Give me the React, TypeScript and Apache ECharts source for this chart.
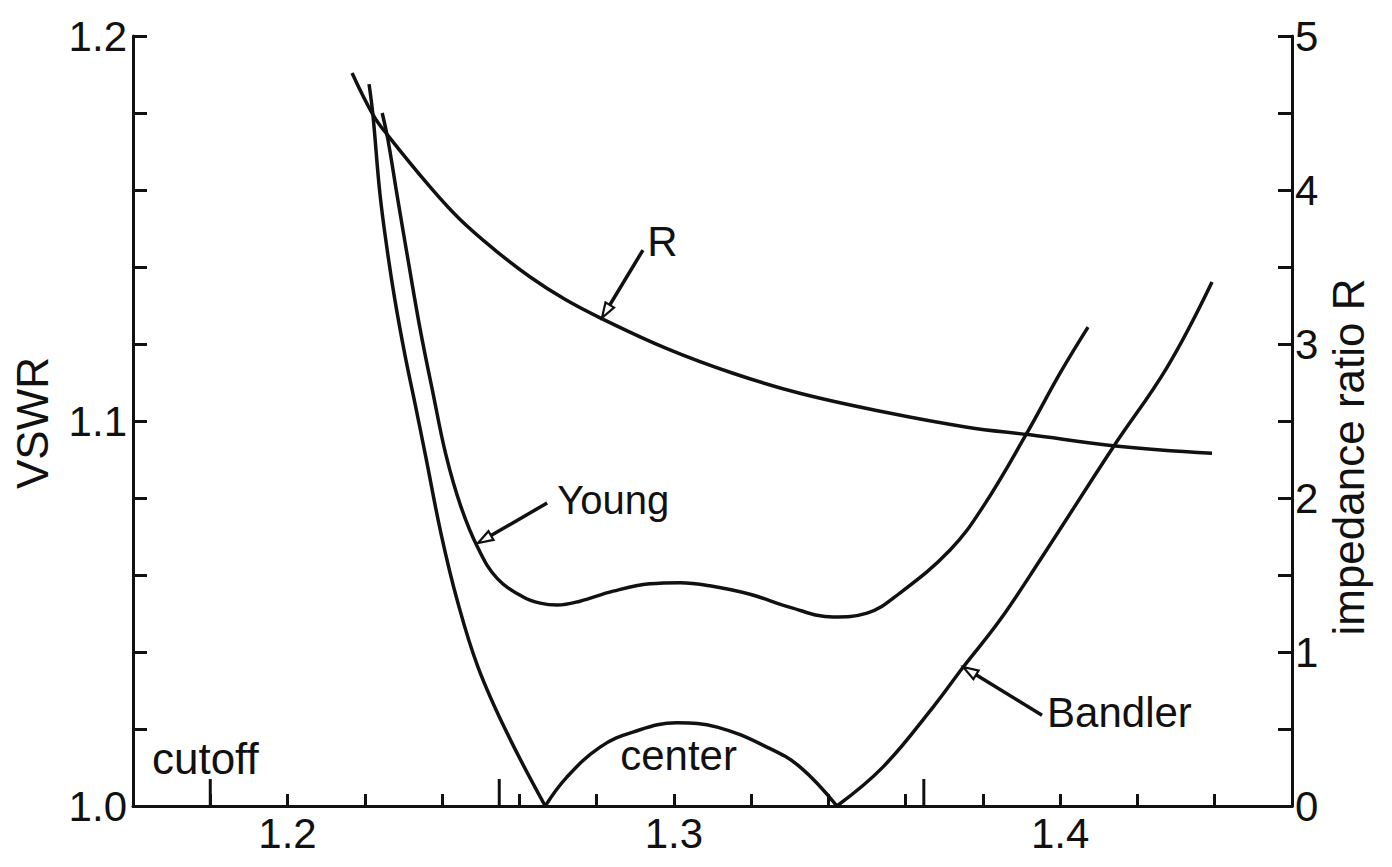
import React, { useEffect, useRef } from "react";
import * as echarts from "echarts";

// ---- tick labels ----
const xTickLabels = ["1.2", "1.3", "1.4"];
const vswrTickLabels = ["1.0", "1.1", "1.2"];
const ratioTickLabels = ["0", "1", "2", "3", "4", "5"];

// ---- impedance ratio R (right axis) ----
const rFreq = [1.2167, 1.2221, 1.2258, 1.2369, 1.2446, 1.2537, 1.2628, 1.2718, 1.2809, 1.2982, 1.3153, 1.3326, 1.3541, 1.3759, 1.3922, 1.4137, 1.4393];
const rRatio = [4.76, 4.49, 4.36, 4.02, 3.81, 3.61, 3.435, 3.29, 3.17, 2.97, 2.81, 2.68, 2.56, 2.46, 2.41, 2.34, 2.29];

// ---- Young VSWR ----
const youngFreq = [1.2245, 1.226, 1.2283, 1.2312, 1.2343, 1.2377, 1.241, 1.2449, 1.2493, 1.2542, 1.261, 1.2654, 1.2698, 1.2757, 1.2843, 1.2938, 1.3016, 1.3093, 1.3197, 1.3301, 1.3412, 1.35, 1.3585, 1.3715, 1.38, 1.3914, 1.4, 1.4072];
const youngVswr = [1.18, 1.173, 1.159, 1.1418, 1.124, 1.107, 1.0912, 1.0777, 1.067, 1.0592, 1.0543, 1.0527, 1.0522, 1.0532, 1.0558, 1.0577, 1.058, 1.0572, 1.055, 1.0516, 1.0491, 1.0501, 1.0553, 1.0665, 1.0777, 1.0969, 1.1125, 1.1244];

// ---- Bandler VSWR (three pieces meeting at the two zeros) ----
const bandlerLeftFreq = [1.2211, 1.2221, 1.2239, 1.2258, 1.2278, 1.2304, 1.2328, 1.2358, 1.2397, 1.2439, 1.2493, 1.2568, 1.2667];
const bandlerLeftVswr = [1.1875, 1.1795, 1.1592, 1.1444, 1.1314, 1.1171, 1.1055, 1.0906, 1.0709, 1.0535, 1.0361, 1.019, 1.0];
const bandlerArchFreq = [1.2667, 1.2723, 1.2809, 1.2894, 1.3008, 1.3112, 1.3241, 1.3327, 1.3422];
const bandlerArchVswr = [1.0, 1.0075, 1.0153, 1.0192, 1.0216, 1.0205, 1.0153, 1.0101, 1.0];
const bandlerRightFreq = [1.3422, 1.3541, 1.3671, 1.3749, 1.3844, 1.3948, 1.4137, 1.4277, 1.4393];
const bandlerRightVswr = [1.0, 1.0101, 1.0257, 1.0361, 1.0483, 1.0639, 1.0932, 1.114, 1.1361];

// ---- long marks on the frequency axis ----
const longTickFreq = [1.18, 1.2548, 1.3647];

// ---- annotation texts (data coordinates on the VSWR axis) ----
const noteTexts = ["R", "Young", "Bandler", "cutoff", "center"];
const noteFreq = [1.2931, 1.2698, 1.3966, 1.1649, 1.2861];
const noteVswr = [1.1465, 1.0794, 1.0243, 1.0124, 1.0131];

// ---- annotation arrows: tail -> tip ----
const arrowTailFreq = [1.292, 1.2672, 1.3953];
const arrowTailVswr = [1.1444, 1.0787, 1.0236];
const arrowTipFreq = [1.2814, 1.2493, 1.3749];
const arrowTipVswr = [1.1268, 1.0683, 1.0361];

export default function App() {
  const ref = useRef<HTMLDivElement>(null);

  useEffect(() => {
    const el = ref.current!;
    const chart = echarts.init(el, null, { renderer: "svg" });
    const font = "Liberation Sans";
    const ink = "#111111";
    const pairs = (xs: number[], ys: number[]) => xs.map((x, i) => [x, ys[i]]);
    const line = (name: string, data: number[][], yAxisIndex = 0) => ({
      type: "line",
      name,
      data,
      yAxisIndex,
      symbol: "none",
      showSymbol: false,
      smooth: 0.4,
      silent: true,
      lineStyle: { color: ink, width: 3.5 },
    });

    const axisCommon = {
      axisLine: { show: true, onZero: false, lineStyle: { color: ink, width: 3 } },
      axisTick: { show: true, inside: true, length: 14, lineStyle: { color: ink, width: 3 } },
      splitLine: { show: false },
    };

    chart.setOption({
      animation: false,
      backgroundColor: "#ffffff",
      grid: { left: 133, right: 100, top: 36, bottom: 61 },
      xAxis: {
        type: "value",
        min: 1.16,
        max: 1.46,
        interval: 0.02,
        ...axisCommon,
        axisTick: { show: true, inside: true, length: 12, lineStyle: { color: ink, width: 3 } },
        axisLabel: {
          color: ink,
          fontSize: 42,
          fontFamily: font,
          margin: 6,
          formatter: (v: number) => {
            const s = (Math.round(v * 100) / 100).toFixed(2);
            const t = s.slice(0, -1);
            return s.endsWith("0") && xTickLabels.includes(t) ? t : "";
          },
        },
      },
      yAxis: [
        {
          type: "value",
          position: "left",
          min: 1.0,
          max: 1.2,
          interval: 0.02,
          ...axisCommon,
          axisLabel: {
            color: ink,
            fontSize: 42,
            fontFamily: font,
            margin: 6,
            formatter: (v: number) => {
              const s = (Math.round(v * 100) / 100).toFixed(2);
              const t = s.slice(0, -1);
              return s.endsWith("0") && vswrTickLabels.includes(t) ? t : "";
            },
          },
        },
        {
          type: "value",
          position: "right",
          min: 0,
          max: 5,
          interval: 0.5,
          ...axisCommon,
          axisLabel: {
            color: ink,
            fontSize: 42,
            fontFamily: font,
            margin: 3,
            formatter: (v: number) => {
              const s = String(Math.round(v * 2) / 2);
              return ratioTickLabels.includes(s) ? s : "";
            },
          },
        },
      ],
      series: [
        line("R", pairs(rFreq, rRatio), 1),
        line("Young", pairs(youngFreq, youngVswr)),
        line("Bandler", pairs(bandlerLeftFreq, bandlerLeftVswr)),
        line("Bandler", pairs(bandlerArchFreq, bandlerArchVswr)),
        line("Bandler", pairs(bandlerRightFreq, bandlerRightVswr)),
      ],
    });

    const px = (x: number, y: number) =>
      chart.convertToPixel({ xAxisIndex: 0, yAxisIndex: 0 }, [x, y]) as number[];

    const graphics: any[] = [];

    // long ticks
    longTickFreq.forEach((f) => {
      const p = px(f, 1.0);
      graphics.push({
        type: "line",
        silent: true,
        shape: { x1: p[0], y1: p[1], x2: p[0], y2: p[1] - 27 },
        style: { stroke: ink, lineWidth: 3 },
      });
    });

    // arrows
    arrowTailFreq.forEach((_, i) => {
      const a = px(arrowTailFreq[i], arrowTailVswr[i]);
      const b = px(arrowTipFreq[i], arrowTipVswr[i]);
      const dx = b[0] - a[0];
      const dy = b[1] - a[1];
      const len = Math.hypot(dx, dy);
      const ux = dx / len;
      const uy = dy / len;
      const head = 15;
      const half = 5;
      const bx = b[0] - ux * head;
      const by = b[1] - uy * head;
      graphics.push({
        type: "line",
        silent: true,
        shape: { x1: a[0], y1: a[1], x2: bx, y2: by },
        style: { stroke: ink, lineWidth: 3.5 },
      });
      graphics.push({
        type: "polygon",
        silent: true,
        shape: {
          points: [
            [b[0], b[1]],
            [bx - uy * half, by + ux * half],
            [bx + uy * half, by - ux * half],
          ],
        },
        style: { fill: "#ffffff", stroke: ink, lineWidth: 2.2 },
      });
    });

    // annotation texts
    const noteSizes = [42, 40, 42, 44, 42];
    noteTexts.forEach((t, i) => {
      const p = px(noteFreq[i], noteVswr[i]);
      graphics.push({
        type: "text",
        silent: true,
        x: p[0],
        y: p[1],
        style: {
          text: t,
          fill: ink,
          fontSize: noteSizes[i],
          fontFamily: font,
          align: "left",
          verticalAlign: "middle",
        },
      });
    });

    // axis names
    graphics.push({
      type: "text",
      silent: true,
      x: 32,
      y: 423,
      rotation: Math.PI / 2,
      style: { text: "VSWR", fill: ink, fontSize: 44, fontFamily: font, align: "center", verticalAlign: "middle" },
    });
    graphics.push({
      type: "text",
      silent: true,
      x: 1348,
      y: 457,
      rotation: Math.PI / 2,
      style: { text: "impedance ratio R", fill: ink, fontSize: 44, fontFamily: font, align: "center", verticalAlign: "middle" },
    });

    chart.setOption({ graphic: graphics });

    return () => chart.dispose();
  }, []);

  return (
    <div
      ref={ref}
      style={{ position: "fixed", left: 0, top: 0, width: 1392, height: 867, background: "#ffffff" }}
    />
  );
}
